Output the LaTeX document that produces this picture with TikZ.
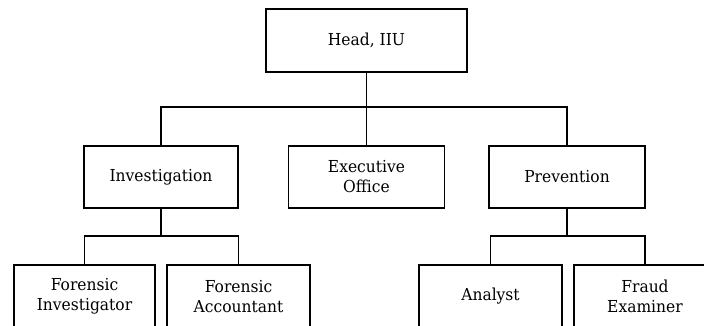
\documentclass[tikz,border=0pt]{standalone}
\usepackage{fontspec}
\setmainfont[FakeStretch=0.94]{DejaVu Serif}
\usepackage{tikz}
\usetikzlibrary{positioning}

\tikzset{unit/.style={draw, line width=1.3pt, align=center, inner sep=0pt,
  font=\fontsize{16.5}{20}\selectfont}}

\begin{document}
\begin{tikzpicture}[x=1pt,y=-1pt]

\useasboundingbox (0,0) rectangle (704,325);
\clip (0,0) rectangle (704,325);

\node[unit, minimum width=201, minimum height=63] (head) at (366.5,40.5) {Head, IIU};

\node[unit, minimum width=154, minimum height=62] (inv) at (161,177) {Investigation};
\node[unit, minimum width=156, minimum height=62] (exec) at (366.5,177) {Executive\\Office};
\node[unit, minimum width=156, minimum height=62] (prev) at (567,177) {Prevention};

\node[unit, minimum width=141, minimum height=63] (finv) at (84.5,296.5) {Forensic\\Investigator};
\node[unit, minimum width=143, minimum height=63] (facc) at (238.5,296.5) {Forensic\\Accountant};
\node[unit, minimum width=143, minimum height=63] (anl) at (490.5,296.5) {Analyst};
\node[unit, minimum width=142, minimum height=63] (fexm) at (645,296.5) {Fraud\\Examiner};

% bus lines
\coordinate (bus) at (366.5,107);
\coordinate (businv) at (161,236);
\coordinate (busprev) at (567,236);

\draw[line width=1.3pt] (head.south) -- (exec.north);
\draw[line width=1.3pt] (inv.north) |- (bus) -| (prev.north);

\draw[line width=1.3pt] (inv.south) -- (businv);
\draw[line width=1.3pt] (finv.north) |- (businv) -| (facc.north);

\draw[line width=1.3pt] (prev.south) -- (busprev);
\draw[line width=1.3pt] (anl.north) |- (busprev) -| (fexm.north);
\end{tikzpicture}
\end{document}
